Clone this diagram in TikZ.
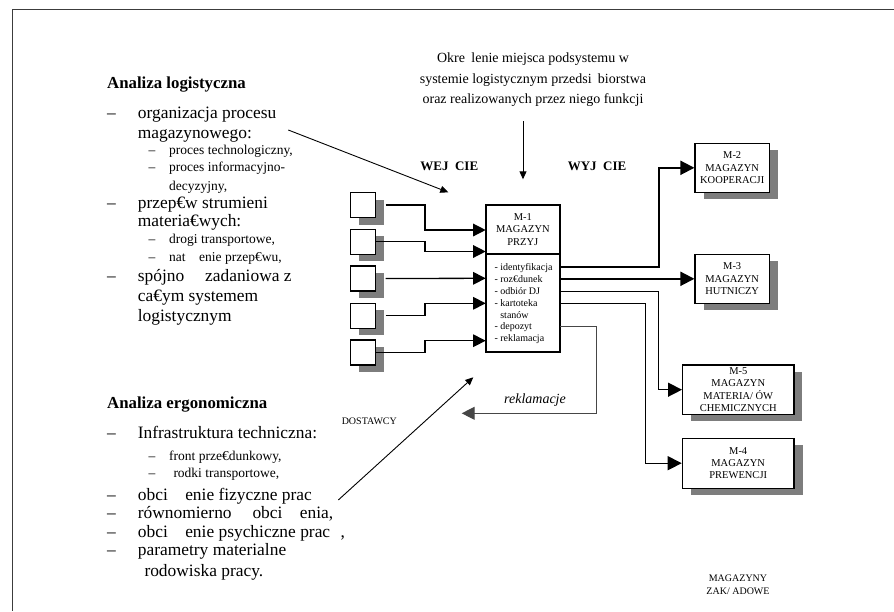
\documentclass[tikz,border=0pt]{standalone}
\usepackage{fontspec}
\setmainfont{Liberation Serif}
\usetikzlibrary{arrows.meta,calc}
\definecolor{shadowgray}{RGB}{125,125,125}
\definecolor{framegray}{RGB}{60,60,60}
\definecolor{backline}{RGB}{70,70,70}

\begin{document}
\begin{tikzpicture}[x=1pt,y=-1pt,
  item/.style={anchor=base west, inner sep=0pt, font=\fontsize{17.4}{20}\selectfont},
  subitem/.style={anchor=base west, inner sep=0pt, font=\fontsize{13.5}{15}\selectfont},
  head/.style={anchor=base west, inner sep=0pt, font=\fontsize{16.8}{20}\selectfont\bfseries},
  titleline/.style={anchor=base, inner sep=0pt, font=\fontsize{14}{20}\selectfont},
  caption/.style={inner sep=0pt, font=\fontsize{13}{15}\selectfont\bfseries},
  small/.style={inner sep=0pt, align=center, font=\fontsize{10}{13}\selectfont},
  boxshadow/.style={preaction={draw=none, fill=shadowgray,
    transform canvas={xshift=8.5pt, yshift=-7pt}}},
  supplier/.style={draw, line width=1.2pt, fill=white, minimum size=25pt, inner sep=0pt, boxshadow},
  store/.style={draw, line width=1.3pt, fill=white, inner sep=0pt, align=center,
    font=\fontsize{10.5}{12.3}\selectfont, boxshadow},
  hub/.style={draw, line width=2pt, fill=white, inner sep=0pt, minimum width=74.3pt,
    align=center, font=\fontsize{10.5}{12.5}\selectfont},
  flow/.style={line width=1.3pt, -{Triangle[length=12.5pt,width=12.5pt]}},
  outflow/.style={line width=1.4pt, -{Triangle[length=14pt,width=14pt]}},
  thin/.style={line width=0.9pt, -{Triangle[length=8pt,width=7pt]}},
  back/.style={line width=1.1pt, draw=backline, -{Triangle[length=13pt,width=13pt]}}
]
\useasboundingbox (0,0) rectangle (894,611);

% page frame
\draw[framegray, line width=1pt] (894,9) -- (12,9) -- (12,611);

% heading above the hub
\node[titleline] (ti1) at (533,62.2) {Okre\hspace{0.45em}lenie miejsca podsystemu w};
\node[titleline] (ti2) at (533,83.2) {systemie logistycznym przedsi\hspace{0.45em}biorstwa};
\node[titleline] (ti3) at (533,103.2) {oraz realizowanych przez niego funkcji};
\coordinate (tia) at (523,121);
\coordinate (tib) at (523,179.3);
\draw[thin] (tia) -- (tib);

% logistic analysis
\node[head] (h1) at (107,88) {Analiza logistyczna};
\node[item] (a1d) at (107,118) {–};
\node[item] (a1) at (137.7,118) {organizacja procesu};
\node[item] (a2) at (137.7,138) {magazynowego:};
\node[subitem] (a3d) at (148.3,154.5) {–};
\node[subitem] (a3) at (169,154.5) {proces technologiczny,};
\node[subitem] (a4d) at (148.3,171.5) {–};
\node[subitem] (a4) at (169,171.5) {proces informacyjno-};
\node[subitem] (a5) at (169,190) {decyzyjny,};
\node[item] (a6d) at (107,208) {–};
\node[item] (a6) at (137.7,208) {przep€w strumieni};
\node[item] (a7) at (137.7,226) {materia€wych:};
\node[subitem] (a8d) at (148.3,243.5) {–};
\node[subitem] (a8) at (169,243.5) {drogi transportowe,};
\node[subitem] (a9d) at (148.3,261) {–};
\node[subitem] (a9) at (169,261) {nat\hspace{1em}enie przep€wu,};
\node[item] (a10d) at (107,281) {–};
\node[item] (a10) at (137.7,281) {spójno\hspace{1.2em}zadaniowa z};
\node[item] (a11) at (137.7,301) {ca€ym systemem};
\node[item] (a12) at (137.7,321) {logistycznym};

% ergonomic analysis
\node[head] (h2) at (107,408) {Analiza ergonomiczna};
\node[item] (b1d) at (107,438.5) {–};
\node[item] (b1) at (137.7,438.5) {Infrastruktura techniczna:};
\node[subitem] (b2d) at (148.3,460.5) {–};
\node[subitem] (b2) at (169,460.5) {front prze€dunkowy,};
\node[subitem] (b3d) at (148.3,477.5) {–};
\node[subitem] (b3) at (173.3,477.5) {rodki transportowe,};
\node[item] (b4d) at (107,500) {–};
\node[item] (b4) at (137.7,500) {obci\hspace{1em}enie fizyczne prac};
\node[item] (b5d) at (107,518.5) {–};
\node[item] (b5) at (137.7,518.5) {równomierno\hspace{1.2em}obci\hspace{1em}enia,};
\node[item] (b6d) at (107,537) {–};
\node[item] (b6) at (137.7,537) {obci\hspace{1em}enie psychiczne prac\hspace{0.6em},};
\node[item] (b7d) at (107,555.5) {–};
\node[item] (b7) at (137.7,555.5) {parametry materialne};
\node[item] (b8) at (144.3,576) {rodowiska pracy.};

% arrows from the analyses towards the hub
\coordinate (d1s) at (288.3,130);
\coordinate (d1e) at (448.3,192.3);
\draw[thin] (d1s) -- (d1e);
\coordinate (d2s) at (338.3,500);
\coordinate (d2e) at (473.3,377.3);
\draw[thin] (d2s) -- (d2e);

% column captions
\node[caption] (win) at (449.3,166) {WEJ\ \ CIE};
\node[caption] (wout) at (597,166) {WYJ\ \ CIE};
\node[small] (sup) at (369.3,421.7) {DOSTAWCY};
\node[small] (stores) at (738,584.5) {MAGAZYNY\\ZAK/ ADOWE};

% suppliers
\node[supplier] (s1) at (363.2,205) {};
\node[supplier] (s2) at (363.2,241.7) {};
\node[supplier] (s3) at (363.2,278.5) {};
\node[supplier] (s4) at (363.2,315.7) {};
\node[supplier] (s5) at (363.2,352.5) {};

% hub M-1
\node[hub, minimum height=49pt] (m1top) at (522.85,229.5) {M-1\\MAGAZYN\\PRZYJ};
\node[hub, minimum height=98.3pt] (m1bot) at (522.85,303.15) {};
\node[anchor=west, inner sep=0pt, align=left, font=\fontsize{10}{11.8}\selectfont] (m1list) at (494.3,303.8)
  {- identyfikacja\\- roz€dunek\\- odbiór DJ\\- kartoteka\\\hphantom{- }stanów\\- depozyt\\- reklamacja};

% receiving stores
\node[store, minimum width=74.3pt, minimum height=49pt] (m2) at (732.2,167.8) {M-2\\MAGAZYN\\KOOPERACJI};
\node[store, minimum width=74.3pt, minimum height=49pt] (m3) at (732.2,278.8) {M-3\\MAGAZYN\\HUTNICZY};
\node[store, minimum width=111.3pt, minimum height=49.3pt] (m5) at (738.3,389.7) {M-5\\MAGAZYN\\MATERIA/ ÓW\\CHEMICZNYCH};
\node[store, minimum width=111.7pt, minimum height=50pt] (m4) at (738.2,463.2) {M-4\\MAGAZYN\\PREWENCJI};

% inbound flows
\coordinate (bx) at (425,0);
\coordinate (in1) at (485.7,230);
\coordinate (in2) at (485.7,251.5);
\coordinate (in3) at (485.7,278.3);
\coordinate (in4) at (485.7,303.3);
\coordinate (in5) at (485.7,340.7);
\draw[flow] ([xshift=9.3pt]s1.east) -- (s1.east -| bx) |- (in1);
\draw[flow] (s2.east) -- (s2.east -| bx) |- (in2);
\draw[flow] ([xshift=9.3pt]s3.east) -- (in3);
\draw[flow] ([xshift=9.3pt]s4.east) -- (s4.east -| bx) |- (in4);
\draw[flow] (s5.east) -- (s5.east -| bx) |- (in5);

% outbound flows
\coordinate (out1) at (560,266.5);
\coordinate (out2) at (560,278.8);
\coordinate (out3) at (560,291.2);
\coordinate (out4) at (560,303.3);
\coordinate (out5) at (560,326.7);
\coordinate (bo1) at (658.5,0);
\coordinate (bo4) at (645.7,0);
\draw[outflow, line width=2pt] (out1) -- (out1 -| bo1) |- (m2.west);
\draw[outflow, line width=2pt] (out2) -- (m3.west);
\draw[outflow] (out3) -- (out3 -| bo1) |- (m5.west);
\draw[outflow] (out4) -- (out4 -| bo4) |- (m4.west);

% complaints back to suppliers
\coordinate (rc) at (596.7,413.3);
\coordinate (rtip) at (461.7,413.3);
\draw[back] (out5) -| (rc) -- (rtip);
\node[inner sep=0pt, font=\fontsize{14}{16}\selectfont\itshape] (rek) at (535,400) {reklamacje};
\end{tikzpicture}
\end{document}
